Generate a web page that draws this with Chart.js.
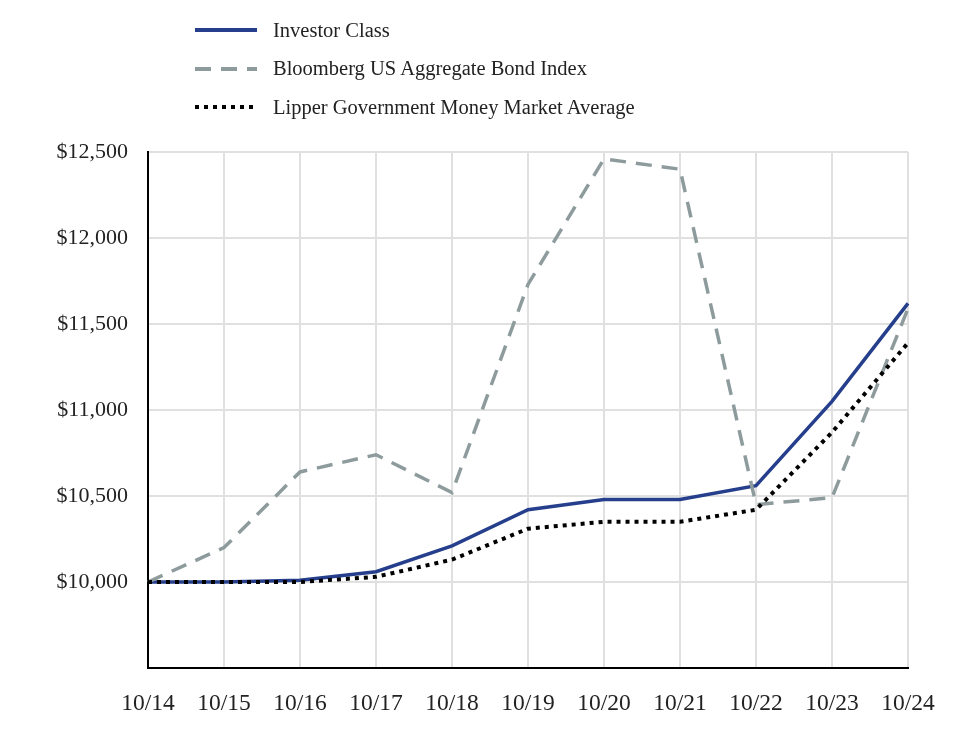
<!DOCTYPE html>
<html>
<head>
<meta charset="utf-8">
<script src="https://cdn.jsdelivr.net/npm/chart.js@4"></script>
<style>
  body { margin: 0; background: #fff; }
  #wrap { position: relative; width: 964px; height: 740px; }
  #legend { position: absolute; left: 195px; top: 11px; font-family: "Liberation Serif", serif; font-size: 20.5px; color: #222; }
  .item { height: 38.5px; display: flex; align-items: center; }
  .item svg { width: 62px; height: 6px; margin-right: 16px; }
</style>
</head>
<body>
<div id="wrap">
  <canvas id="chart" width="964" height="740"></canvas>
  <div id="legend"></div>
</div>
<script>
var labels = ['10/14', '10/15', '10/16', '10/17', '10/18', '10/19', '10/20', '10/21', '10/22', '10/23', '10/24'];
var investorClass = [10000, 10000, 10010, 10060, 10210, 10420, 10480, 10480, 10560, 11050, 11620];
var bloombergIndex = [10000, 10200, 10640, 10740, 10520, 11730, 12460, 12400, 10450, 10490, 11590];
var lipperAverage = [10000, 10000, 10000, 10030, 10130, 10310, 10350, 10350, 10420, 10870, 11390];

var series = [
    { label: 'Investor Class', data: investorClass, color: '#263f8c', dash: [] },
    { label: 'Bloomberg US Aggregate Bond Index', data: bloombergIndex, color: '#8e9b9d', dash: [16, 10] },
    { label: 'Lipper Government Money Market Average', data: lipperAverage, color: '#000000', dash: [4, 5] }
];

// legend as html, stacked like the original
var legend = document.getElementById('legend');
series.forEach(function (s) {
    var row = document.createElement('div');
    row.className = 'item';
    row.innerHTML = '<svg viewBox="0 0 62 6"><line x1="0" y1="3" x2="62" y2="3" stroke="' + s.color +
        '" stroke-width="4" stroke-dasharray="' + (s.dash.length ? s.dash.join(' ') : 'none') + '"/></svg>' +
        '<span>' + s.label + '</span>';
    legend.appendChild(row);
});

var yFont = { family: '"Liberation Serif", serif', size: 22 };
var xFont = { family: '"Liberation Serif", serif', size: 23.5 };

new Chart(document.getElementById('chart'), {
    type: 'line',
    data: {
        labels: labels,
        datasets: series.map(function (s) {
            return {
                label: s.label,
                data: s.data,
                borderColor: s.color,
                borderWidth: s.dash.length && s.dash[0] === 4 ? 4 : 3.5,
                borderDash: s.dash,
                pointRadius: 0,
                tension: 0,
                fill: false
            };
        }).reverse()
    },
    options: {
        responsive: false,
        animation: false,
        layout: { padding: { top: 152, right: 56, left: 0, bottom: 0 } },
        plugins: { legend: { display: false }, tooltip: { enabled: false } },
        scales: {
            x: {
                grid: { color: '#e0e0e0', lineWidth: 2, drawTicks: false },
                border: { color: '#000', width: 2 },
                ticks: { color: '#222', font: xFont, padding: 22, maxRotation: 0 },
                afterFit: function (axis) { axis.height = 72; }
            },
            y: {
                min: 9500,
                max: 12500,
                grid: {
                    color: function (c) { return c.tick && c.tick.value === 9500 ? 'rgba(0,0,0,0)' : '#e0e0e0'; },
                    lineWidth: 2,
                    drawTicks: false
                },
                border: { color: '#000', width: 2 },
                ticks: {
                    stepSize: 500,
                    color: '#222',
                    font: yFont,
                    padding: 20,
                    callback: function (v) { return v === 9500 ? '' : '$' + v.toLocaleString('en-US'); }
                },
                afterFit: function (axis) { axis.width = 148; }
            }
        }
    }
});
</script>
</body>
</html>
